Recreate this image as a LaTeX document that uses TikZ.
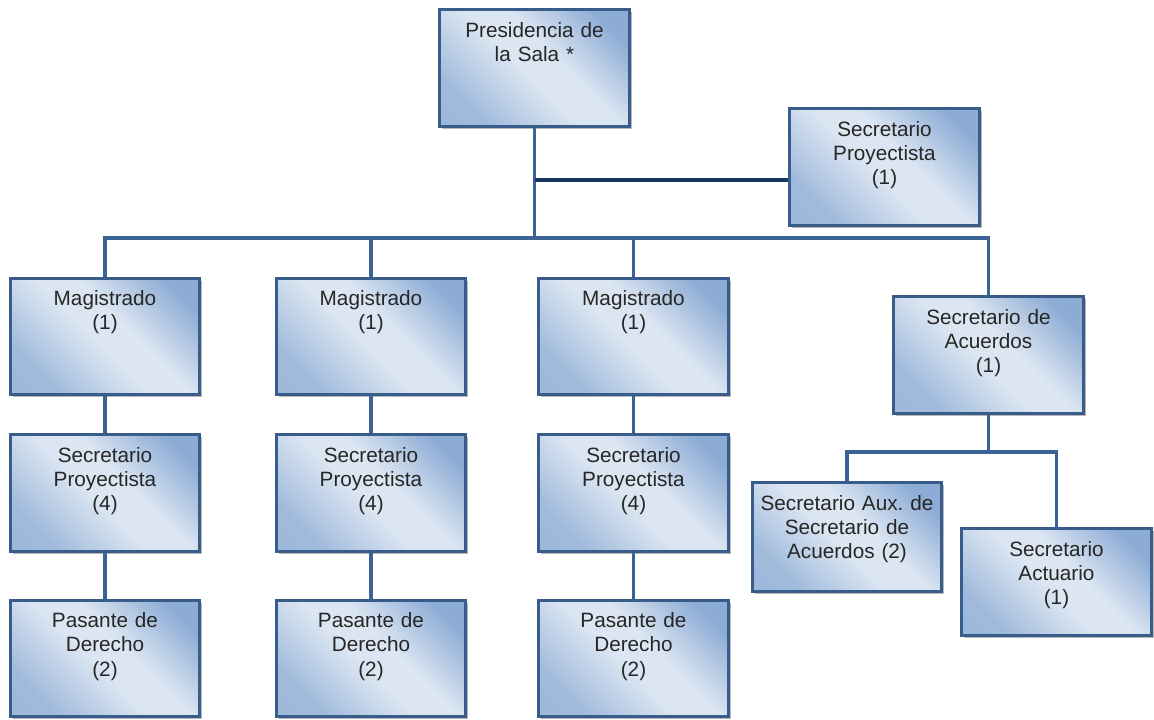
\documentclass[tikz,border=0pt]{standalone}
\usepackage{fontspec}
\setmainfont{Liberation Sans}
\usetikzlibrary{shadows}

\definecolor{boxdark}{HTML}{8DACD5}
\definecolor{boxlight}{HTML}{DCE6F2}
\definecolor{boxedge}{HTML}{385D8A}
\definecolor{linkblue}{HTML}{3C6396}
\definecolor{linknavy}{HTML}{17375E}

\pgfdeclareverticalshading{unitshade}{100bp}{color(0bp)=(boxdark!85!boxlight); color(26bp)=(boxdark!75!boxlight); color(47bp)=(boxlight); color(57bp)=(boxlight); color(77bp)=(boxdark); color(100bp)=(boxdark)}

\tikzset{
    unit/.style={draw=boxedge, line width=0.06cm,
        shade, shading=unitshade, shading angle=-45,
        text width=3.8cm, align=center, inner sep=0pt,
        text height=0.55cm, text depth=1.79cm,
        text=black!85, font=\fontsize{11.8}{13.9}\selectfont,
        drop shadow={shadow xshift=0.05cm, shadow yshift=-0.05cm, fill=black!28, opacity=1}},
    link/.style={draw=linkblue, line width=0.065cm},
    deeplink/.style={draw=linknavy, line width=0.065cm}
}

\begin{document}
\begin{tikzpicture}[x=0.02cm, y=-0.02cm]
    \useasboundingbox (0,0) rectangle (1154,720);

    \node[unit] (P)  at (534.5, 68)  {Presidencia de\\la Sala *};
    \node[unit] (SP) at (884.5, 167) {Secretario\\Proyectista\\(1)};

    \node[unit] (M1) at (105, 336.5)   {Magistrado\\(1)};
    \node[unit] (M2) at (371, 336.5)   {Magistrado\\(1)};
    \node[unit] (M3) at (633.5, 336.5) {Magistrado\\(1)};
    \node[unit] (SA) at (988.5, 355)   {Secretario de\\Acuerdos\\(1)};

    \node[unit] (Y1) at (105, 493)   {Secretario\\Proyectista\\(4)};
    \node[unit] (Y2) at (371, 493)   {Secretario\\Proyectista\\(4)};
    \node[unit] (Y3) at (633.5, 493) {Secretario\\Proyectista\\(4)};

    \node[unit] (D1) at (105, 658.5)   {Pasante de\\Derecho\\(2)};
    \node[unit] (D2) at (371, 658.5)   {Pasante de\\Derecho\\(2)};
    \node[unit] (D3) at (633.5, 658.5) {Pasante de\\Derecho\\(2)};

    \node[unit, text depth=1.63cm] (AX) at (847, 537)    {Secretario Aux.\ de\\Secretario de\\Acuerdos (2)};
    \node[unit, text depth=1.59cm] (AC) at (1056.5, 582) {Secretario\\Actuario\\(1)};

    \coordinate (PJ)  at (534.5, 180);
    \coordinate (BUS) at (534.5, 238);
    \coordinate (AJ)  at (988.5, 452);

    \draw[link] (P) to (BUS);
    \draw[deeplink] (PJ) to (PJ -| SP.west);
    \draw[link] (M1) |- (BUS) -| (SA);
    \draw[link] (M2) to (M2 |- BUS);
    \draw[link] (M3) to (M3 |- BUS);

    \draw[link] (M1) to (Y1);
    \draw[link] (M2) to (Y2);
    \draw[link] (M3) to (Y3);
    \draw[link] (Y1) to (D1);
    \draw[link] (Y2) to (D2);
    \draw[link] (Y3) to (D3);

    \draw[link] (SA) to (AJ);
    \draw[link] (AX) |- (AJ) -| (AC);

\end{tikzpicture}
\end{document}
